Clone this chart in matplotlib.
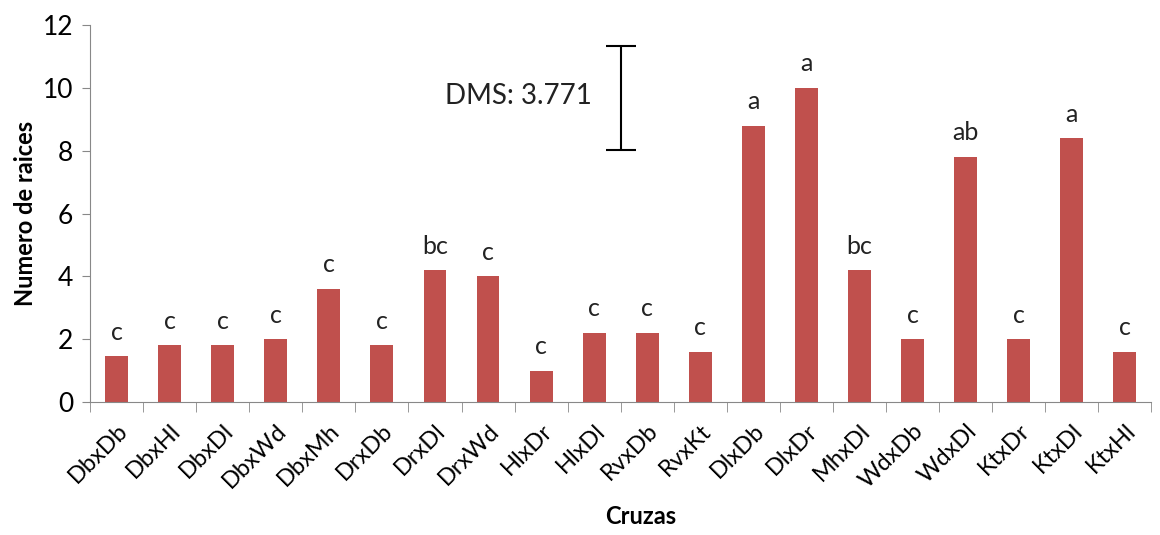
import numpy as np
import matplotlib.pyplot as plt

plt.rcParams['font.family'] = ['Lato', 'DejaVu Sans']

# Root count per cross, with significance letters
cruzas = ["DbxDb", "DbxHl", "DbxDl", "DbxWd", "DbxMh", "DrxDb", "DrxDl", "DrxWd",
          "HlxDr", "HlxDl", "RvxDb", "RvxKt", "DlxDb", "DlxDr", "MhxDl", "WdxDb",
          "WdxDl", "KtxDr", "KtxDl", "KtxHl"]
raices = [1.45, 1.8, 1.8, 2.0, 3.6, 1.8, 4.2, 4.0, 1.0, 2.2, 2.2, 1.6,
          8.8, 10.0, 4.2, 2.0, 7.8, 2.0, 8.4, 1.6]
letras = ["c", "c", "c", "c", "c", "c", "bc", "c", "c", "c", "c", "c",
          "a", "a", "bc", "c", "ab", "c", "a", "c"]

# DMS bar
dms_x = 9.5
dms_low, dms_high = 8.03, 11.33

fig = plt.figure(figsize=(11.6, 5.35), dpi=100)
ax = fig.add_axes([0.0776, 0.2486, 0.915, 0.7045])

x = np.arange(len(cruzas))
ax.bar(x, raices, width=0.43, color="#C0504D", zorder=2)
for xi, v, l in zip(x, raices, letras):
    ax.text(xi, v + 0.4, l, ha="center", va="bottom", fontsize=18, color="#222222")

ax.errorbar([dms_x], [(dms_low + dms_high) / 2], yerr=[(dms_high - dms_low) / 2],
            color="black", capsize=11, elinewidth=1.5, capthick=1.5)
ax.text(dms_x - 0.55, (dms_low + dms_high) / 2 + 0.05, "DMS: 3.771",
        ha="right", va="center", fontsize=20, color="#222222")

ax.set_xlim(-0.5, len(cruzas) - 0.5)
ax.set_ylim(0, 12)
ax.set_yticks(range(0, 13, 2))
ax.tick_params(axis="y", labelsize=19, length=6, color="#888888", pad=6)

ax.set_xticks(x)
ax.set_xticklabels(cruzas, rotation=45, ha="right", rotation_mode="anchor", fontsize=17)
ax.tick_params(axis="x", which="major", length=0, pad=13)
ax.set_xticks(np.arange(-0.5, len(cruzas), 1.0), minor=True)
ax.tick_params(axis="x", which="minor", length=7, color="#888888")

for s in ["top", "right"]:
    ax.spines[s].set_visible(False)
for s in ["left", "bottom"]:
    ax.spines[s].set_color("#888888")

ax.set_ylabel("Numero de raices", fontsize=17, fontweight="bold", labelpad=4)
fig.text(0.552, 0.02, "Cruzas", ha="center", fontsize=17, fontweight="bold")

fig.savefig("out.png", dpi=100)
